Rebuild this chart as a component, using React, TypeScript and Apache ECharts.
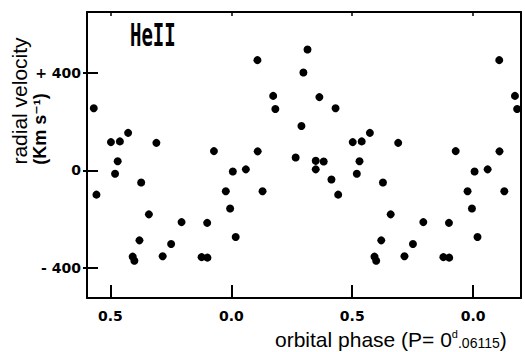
import React, { useEffect, useRef } from "react";
import * as echarts from "echarts";

// One orbital cycle of He II radial velocities (phase 0..1, km/s)
const cyclePhase = [
  0.006, 0.018, 0.06, 0.108, 0.109, 0.129, 0.173, 0.182, 0.266, 0.29,
  0.298, 0.315, 0.349, 0.349, 0.364, 0.382, 0.414, 0.431, 0.442, 0.502,
  0.519, 0.53, 0.539, 0.573, 0.592, 0.599, 0.62, 0.627, 0.659, 0.69,
  0.716, 0.751, 0.794, 0.877, 0.9, 0.901, 0.928, 0.977, 0.995,
];
const cycleVelocity = [
  -5, -274, 4, 453, 78, -86, 306, 252, 53, 182,
  402, 497, 39, 4, 301, 36, -38, 255, -100, 116,
  -14, 37, 119, 154, -355, -372, -288, -50, -181, 113,
  -353, -303, -213, -357, -216, -359, 79, -86, -157,
];

// axis ranges and ticks
const phaseAxisMin = 0.403;
const phaseAxisMax = 2.198;
const plottedFrom = 0.42; // the data were plotted repeatedly from this phase on
const xTickValues = [0.5, 1.0, 1.5, 2.0];
const xTickLabels = ["0.5", "0.0", "0.5", "0.0"];
const velAxisMin = -525;
const velAxisMax = 651;
const yTickValues = [-400, 0, 400];
const yTickLabels = ["- 400", "0", "+ 400"];

function buildPoints(): number[][] {
  const pts: number[][] = [];
  for (let k = 0; k <= 2; k++) {
    cyclePhase.forEach((p, i) => {
      const ph = p + k;
      if (ph >= plottedFrom && ph <= phaseAxisMax) pts.push([ph, cycleVelocity[i]]);
    });
  }
  return pts;
}

export default function App() {
  const ref = useRef<HTMLDivElement>(null);
  useEffect(() => {
    if (!ref.current) return;
    const chart = echarts.init(ref.current, null, { renderer: "svg" });
    const black = "#000";
    const tickFont = { color: black, fontFamily: "DejaVu Sans", fontWeight: "bold" as const, fontSize: 14 };
    chart.setOption({
      animation: false,
      backgroundColor: "#fff",
      grid: { left: 87, top: 12, right: 4, bottom: 54 },
      xAxis: [
        {
          type: "value",
          min: phaseAxisMin,
          max: phaseAxisMax,
          position: "bottom",
          axisLine: { show: true, onZero: false, lineStyle: { color: black, width: 2 } },
          axisTick: { show: true, inside: true, length: 13, lineStyle: { color: black, width: 2 }, customValues: xTickValues },
          axisLabel: {
            show: true,
            margin: 11,
            ...tickFont,
            customValues: xTickValues,
            formatter: (v: number) => {
              const i = xTickValues.findIndex((t) => Math.abs(t - v) < 1e-6);
              return i >= 0 ? xTickLabels[i] : "";
            },
          },
          splitLine: { show: false },
        },
        {
          type: "value",
          min: phaseAxisMin,
          max: phaseAxisMax,
          position: "top",
          axisLine: { show: true, onZero: false, lineStyle: { color: black, width: 2 } },
          axisTick: { show: true, inside: true, length: 4, lineStyle: { color: black, width: 1.5 }, customValues: xTickValues },
          axisLabel: { show: false },
          splitLine: { show: false },
        },
      ],
      yAxis: [
        {
          type: "value",
          min: velAxisMin,
          max: velAxisMax,
          position: "left",
          axisLine: { show: true, onZero: false, lineStyle: { color: black, width: 2 } },
          axisTick: { show: true, inside: true, length: 11, lineStyle: { color: black, width: 2 }, customValues: yTickValues },
          axisLabel: {
            show: true,
            margin: 6,
            ...tickFont,
            customValues: yTickValues,
            formatter: (v: number) => {
              const i = yTickValues.findIndex((t) => Math.abs(t - v) < 1e-6);
              return i >= 0 ? yTickLabels[i] : "";
            },
          },
          splitLine: { show: false },
        },
        {
          type: "value",
          min: velAxisMin,
          max: velAxisMax,
          position: "right",
          axisLine: { show: true, onZero: false, lineStyle: { color: black, width: 2 } },
          axisTick: { show: false },
          axisLabel: { show: false },
          splitLine: { show: false },
        },
        {
          type: "value",
          min: velAxisMin,
          max: velAxisMax,
          position: "left",
          axisLine: { show: false, onZero: false },
          axisTick: { show: true, inside: false, length: 4, lineStyle: { color: black, width: 2 }, customValues: yTickValues },
          axisLabel: { show: false },
          splitLine: { show: false },
        },
      ],
      series: [
        {
          type: "scatter",
          xAxisIndex: 0,
          yAxisIndex: 0,
          symbol: "circle",
          symbolSize: 8,
          itemStyle: { color: black, opacity: 1 },
          data: buildPoints(),
        },
      ],
      graphic: [
        {
          type: "text",
          x: 130,
          y: 18,
          scaleX: 1.0,
          scaleY: 1.7,
          style: {
            text: "HeII",
            font: 'bold 19px "DejaVu Sans Mono"',
            fill: black,
            align: "left",
            verticalAlign: "top",
          },
        },
        {
          type: "text",
          x: 19,
          y: 101,
          rotation: Math.PI / 2,
          style: {
            text: "radial velocity",
            font: '21px "Liberation Sans"',
            fill: black,
            align: "center",
            verticalAlign: "middle",
          },
        },
        {
          type: "text",
          x: 40,
          y: 129,
          rotation: Math.PI / 2,
          style: {
            text: "(Km s⁻¹)",
            font: 'bold 18px "Liberation Sans", "DejaVu Sans"',
            fill: black,
            align: "center",
            verticalAlign: "middle",
          },
        },
        {
          type: "text",
          x: 275,
          y: 339,
          style: {
            text: "orbital phase (P= 0{sup|d}{sm|.06115})",
            font: '21px "Liberation Sans"',
            fill: black,
            align: "left",
            verticalAlign: "middle",
            rich: {
              sup: { fontSize: 11, fontFamily: "Liberation Sans", verticalAlign: "top" },
              sm: { fontSize: 14, fontFamily: "Liberation Sans", verticalAlign: "bottom" },
            },
          },
        },
      ],
    });
    return () => chart.dispose();
  }, []);
  return (
    <div
      ref={ref}
      style={{ position: "fixed", left: 0, top: 0, width: 525, height: 352 }}
    />
  );
}
